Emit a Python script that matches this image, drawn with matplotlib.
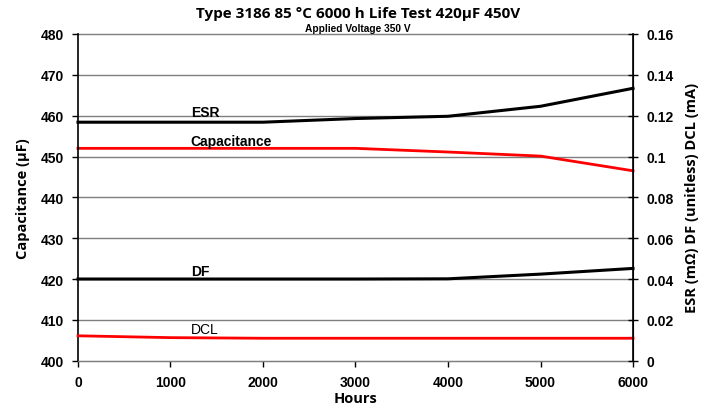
import matplotlib
matplotlib.use("Agg")
import matplotlib.pyplot as plt

hours = [0, 1000, 2000, 3000, 4000, 5000, 6000]
capacitance = [452.0, 452.0, 452.0, 452.0, 451.1, 450.1, 446.5]
esr = [0.1168, 0.1168, 0.1168, 0.1186, 0.1197, 0.1246, 0.1334]
df = [0.0400, 0.0400, 0.0400, 0.0400, 0.0401, 0.0424, 0.0452]
dcl = [0.0122, 0.0113, 0.0110, 0.0110, 0.0110, 0.0110, 0.0110]

left_ticks = [400, 410, 420, 430, 440, 450, 460, 470, 480]
right_ticks = [0, 0.02, 0.04, 0.06, 0.08, 0.1, 0.12, 0.14, 0.16]
right_labels = ["0", "0.02", "0.04", "0.06", "0.08", "0.1", "0.12", "0.14", "0.16"]
x_ticks = [0, 1000, 2000, 3000, 4000, 5000, 6000]

plt.rcParams['font.family'] = ['Liberation Sans', 'DejaVu Sans']
label_font = ['Open Sans', 'DejaVu Sans']

fig = plt.figure(figsize=(7.16, 4.14), dpi=100)
ax = fig.add_axes([0.1089, 0.1263, 0.7752, 0.7892])
ax2 = ax.twinx()

ax.set_xlim(0, 6000)
ax.set_ylim(400, 480)
ax2.set_ylim(0, 0.16)

ax.set_yticks(left_ticks)
ax.set_xticks(x_ticks)
ax2.set_yticks(right_ticks)
ax2.set_yticklabels(right_labels)

ax.grid(axis='y', color='#7f7f7f', linewidth=1.0, clip_on=False)
ax.set_axisbelow(True)

ax.spines['top'].set_visible(False)
ax2.spines['top'].set_visible(False)
ax.spines['bottom'].set_color('#7f7f7f')
ax2.spines['bottom'].set_visible(False)
ax.spines['left'].set_linewidth(1.2)
ax2.spines['right'].set_linewidth(1.2)
ax2.spines['left'].set_visible(False)

ax.tick_params(axis='y', direction='out', length=4, width=1, labelsize=10, pad=6)
ax.tick_params(axis='x', direction='out', length=4, width=1, labelsize=10, pad=6)
ax2.tick_params(axis='y', direction='inout', length=7, width=1, labelsize=10, pad=6)
for lab in ax.get_xticklabels() + ax.get_yticklabels() + ax2.get_yticklabels():
    lab.set_fontweight('bold')

ax.plot(hours, capacitance, color='#ff0000', linewidth=2.0, clip_on=False)
ax2.plot(hours, esr, color='black', linewidth=2.2, clip_on=False)
ax2.plot(hours, df, color='black', linewidth=2.2, clip_on=False)
ax2.plot(hours, dcl, color='#ff0000', linewidth=2.0, clip_on=False)

ax.set_ylabel('Capacitance (µF)', fontsize=10.5, fontweight='bold', labelpad=8, family=label_font)
ax.set_xlabel('Hours', fontsize=10.5, fontweight='bold', labelpad=2, family=label_font)
ax2.set_ylabel('ESR (mΩ) DF (unitless) DCL (mA)', fontsize=10.5, fontweight='bold', labelpad=8,
               family=label_font)

ax.text(1220, 459.2, 'ESR', fontsize=10, fontweight='bold', ha='left', va='bottom')
ax.text(1220, 452.2, 'Capacitance', fontsize=10, fontweight='bold', ha='left', va='bottom')
ax.text(1220, 420.3, 'DF', fontsize=10, fontweight='bold', ha='left', va='bottom')
ax.text(1220, 406.1, 'DCL', fontsize=10, ha='left', va='bottom')

fig.text(0.5, 0.965, 'Type 3186 85 °C 6000 h Life Test 420µF 450V', ha='center', va='center',
         fontsize=11, fontweight='bold', family=['Open Sans', 'DejaVu Sans'])
fig.text(0.5, 0.93, 'Applied Voltage 350 V', ha='center', va='center', fontsize=7.3, fontweight='bold')

fig.savefig('out.png', dpi=100)
